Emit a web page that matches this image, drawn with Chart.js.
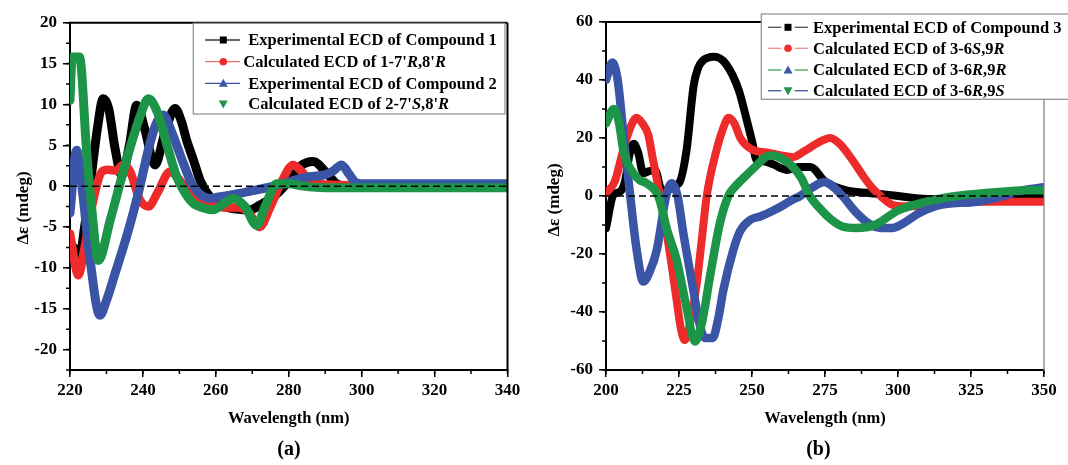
<!DOCTYPE html>
<html>
<head>
<meta charset="utf-8">
<title>ECD spectra</title>
<script src="https://cdn.jsdelivr.net/npm/chart.js@4.4.1/dist/chart.umd.min.js"></script>
<style>
  html, body { margin: 0; padding: 0; background: #fff; }
  #wrap { position: relative; width: 1068px; height: 465px; overflow: hidden; }
  canvas { position: absolute; top: 0; }
  #chartA { left: 0; }
  #chartB { left: 534px; }
</style>
</head>
<body>
<div id="wrap">
  <canvas id="chartA" width="534" height="465"></canvas>
  <canvas id="chartB" width="534" height="465"></canvas>
</div>
<script>
// --- (a) compounds 1 and 2 ---
const wlExp1 = [221, 222.3, 224, 225.5, 227.5, 229.1, 230.6, 232.4, 234.2, 236.3, 238.3, 240.5, 243.3, 246, 248.8, 250.5, 252, 254, 255.7, 258.4, 261, 263.9, 269.4, 272.1, 275.8, 279.4, 283.1, 286.7, 290.4, 293.1, 296, 340];
const cdExp1 = [-7.5, -9.5, -5, 0, 7, 10.7, 9.5, 4.5, 1.3, 5, 9.9, 7, 2.6, 6.5, 9.5, 8, 5.6, 3, 0.7, -1.3, -2.2, -2.7, -2.9, -2.3, -1.3, 0.3, 2.4, 3.0, 1.6, 0.3, 0, 0];

const wlCalc1 = [220, 222.3, 224, 226.4, 228.7, 230.5, 232.8, 234.4, 236.5, 239, 241.5, 244, 247.4, 250, 253.8, 258, 262, 266, 269, 272, 275, 278, 281.2, 283.5, 285.8, 290, 300, 340];
const cdCalc1 = [-5.8, -10.9, -7.5, -1.7, 1.75, 2.0, 1.9, 2.6, 1.8, -1.5, -2.5, -0.8, 1.75, 0.8, -1.3, -2.2, -2.6, -2.6, -3.2, -5, -2.5, 0.5, 2.6, 1.8, 0.7, 0.2, 0.1, 0.1];

const wlExp2 = [220, 221.8, 223.5, 225.5, 228.2, 230, 232.5, 235.5, 237.5, 239.2, 241.5, 243.5, 245.6, 248, 250.5, 253.8, 258.4, 261.1, 268.5, 276.7, 284.9, 289.5, 292, 294.5, 296.5, 298.2, 300, 340];
const cdExp2 = [-3.3, 4.4, -1, -9, -15.8, -14, -10.5, -6.2, -3, 0, 4.5, 7.5, 8.7, 6.5, 3.5, 0, -1.5, -1.3, -0.7, 0.1, 1.1, 1.35, 1.8, 2.6, 1.5, 0.5, 0.3, 0.3];

const wlCalc2 = [220, 220.6, 222.6, 224.6, 225.9, 227.8, 231, 235.5, 239.2, 241.5, 244, 246.5, 249.3, 251.5, 253.8, 256, 259.3, 261, 264.8, 268, 271.2, 273.5, 276.7, 280, 284, 290, 340];
const cdCalc2 = [10.5, 15.8, 15.8, 4, -2.5, -9.1, -4.2, 3.2, 8.5, 10.7, 9, 5.2, 1.1, -0.8, -2.1, -2.6, -2.9, -2.5, -1.5, -2.5, -4.8, -2.5, 0.3, 0.3, 0, -0.2, -0.2];

// --- (b) compound 3 ---
const wlExp3 = [200, 202.5, 204.8, 206.5, 208, 209.5, 211, 212.8, 214.5, 216.8, 219.1, 221, 223.6, 225, 227.6, 230, 231.5, 233, 237, 241, 245.5, 248, 250, 251.6, 254, 257, 261.9, 266, 270, 275, 282, 290, 300, 310, 320, 335, 350];
const cdExp3 = [-11.1, 0.3, 1.5, 5, 14, 18, 15, 7.8, 8.5, 9, 2, 2, 3.8, 4.4, 15.9, 38, 44, 46.5, 48, 45.6, 36.4, 27, 19, 12.4, 12, 11, 9, 10, 10, 5, 2, 1, 0, -1, -1, -0.8, -0.5];

const wlCalc3SR = [200, 203, 205.9, 208.5, 210.5, 212.5, 214.5, 216, 218.5, 220.8, 222.5, 224.2, 225.7, 227, 228.8, 231.1, 232.8, 234.5, 237.9, 240, 242, 244, 246, 250, 255, 260, 264, 268, 272, 276.8, 280, 284, 288, 291, 294, 298, 302, 306, 315, 325, 335, 350];
const cdCalc3SR = [1, 5, 15.9, 24, 27, 25, 21, 13, 0, -13, -24, -36, -46, -49.7, -43.9, -30, -15, 0, 16, 23, 27, 25, 20, 16, 15, 14, 13.4, 15.5, 18, 20, 18, 13, 7, 3, 0, -3, -3.5, -3.5, -2.5, -2, -2, -2];

const wlCalc3RR = [200, 202.2, 204, 206.2, 208.3, 210.5, 212.8, 215, 217.4, 220.6, 222.5, 224.5, 226.5, 229.9, 232, 233.9, 236.5, 238.5, 240.2, 243.6, 246, 249.3, 253, 257.3, 261, 263.5, 266.5, 270, 275, 278, 281, 285.5, 290.8, 294, 298, 302.5, 307, 315, 327, 336, 343, 350];
const cdCalc3RR = [40, 46, 40, 19, 0, -18.6, -29.5, -26, -18.6, 0, 4.4, 0, -12.9, -32.4, -44, -49, -49, -42, -32.4, -18.6, -12, -8.3, -7, -5, -3, -1.5, 0, 2.5, 4.8, 3, 0, -5.5, -10, -11, -11, -9, -6, -3, -2, 0, 2, 3];

const wlCalc3RS = [200, 202.7, 204.5, 205.9, 207.5, 209.4, 211.5, 213.9, 217.9, 221, 224.2, 227.5, 230.5, 233, 235.6, 239, 241.9, 244, 247, 251, 255, 257, 260, 264, 267, 269.8, 273, 277, 281, 285.6, 292, 300, 309.5, 320, 330, 344.5, 350];
const cdCalc3RS = [25, 30, 25, 16, 11, 7.8, 5.5, 4.4, 0, -12, -22, -38, -50.2, -43, -27.8, -9.4, 0, 3, 6.1, 10, 13.6, 14, 13, 10, 6, 0, -4, -8, -10.5, -11, -10, -5, -2, 0, 1, 2, 2];

const SERIF = '"Liberation Serif", "Times New Roman", serif';
const BLACK = '#000000', RED = '#ee2b2b', BLUE = '#3b55a6', GREEN = '#1c9548';

function series(wl, cd) {
  return wl.map((x, i) => ({ x: x, y: cd[i] }));
}

function curve(label, wl, cd, color, order, width) {
  return {
    label: label,
    data: series(wl, cd),
    borderColor: color,
    backgroundColor: color,
    borderWidth: width,
    pointRadius: 0,
    cubicInterpolationMode: 'monotone',
    borderCapStyle: 'round',
    borderJoinStyle: 'round',
    order: order
  };
}

function drawMarker(ctx, shape, x, y, color) {
  ctx.fillStyle = color;
  ctx.beginPath();
  if (shape === 'square') {
    ctx.rect(x - 3.5, y - 3.5, 7, 7);
  } else if (shape === 'circle') {
    ctx.arc(x, y, 3.8, 0, Math.PI * 2);
  } else if (shape === 'triangle') {
    ctx.moveTo(x, y - 4.5); ctx.lineTo(x + 4.5, y + 3.5); ctx.lineTo(x - 4.5, y + 3.5);
  } else {
    ctx.moveTo(x, y + 4.5); ctx.lineTo(x + 4.5, y - 3.5); ctx.lineTo(x - 4.5, y - 3.5);
  }
  ctx.closePath();
  ctx.fill();
}

function drawLegend(chart, lg) {
  const ctx = chart.ctx;
  const [bx, by, bw, bh] = lg.box;
  ctx.fillStyle = '#fff';
  ctx.fillRect(bx, by, bw, bh);
  ctx.strokeStyle = '#8c8c8c';
  ctx.lineWidth = 1.2;
  ctx.setLineDash([]);
  ctx.strokeRect(bx, by, bw, bh);
  ctx.textAlign = 'left';
  ctx.textBaseline = 'middle';
  lg.items.forEach((it, i) => {
    const cy = lg.rows[i];
    if (it.line) {
      ctx.strokeStyle = it.line;
      ctx.lineWidth = 1.3;
      it.segs.forEach(s => {
        ctx.beginPath(); ctx.moveTo(s[0], cy); ctx.lineTo(s[1], cy); ctx.stroke();
      });
    }
    drawMarker(ctx, it.shape, lg.markX, cy, it.mark);
    // italic R / S descriptors
    const parts = chart.data.datasets[it.ds].label.split(/([RS])(?=,|$)/);
    let tx = it.tx;
    ctx.fillStyle = '#000';
    parts.forEach((p, k) => {
      if (!p) return;
      ctx.font = (k % 2 ? 'italic ' : '') + 'bold 16.5px ' + SERIF;
      ctx.fillText(p, tx, cy + 1);
      tx += ctx.measureText(p).width;
    });
  });
}

function extras(cfg) {
  return {
    id: 'extras',
    afterDatasetsDraw(chart) {
      const { ctx, chartArea: a, scales } = chart;
      const y0 = scales.y.getPixelForValue(0);
      ctx.save();
      ctx.strokeStyle = '#000';
      ctx.lineWidth = 1.5;
      ctx.setLineDash([7, 4]);
      ctx.beginPath();
      ctx.moveTo(a.left, y0);
      ctx.lineTo(a.right, y0);
      ctx.stroke();
      ctx.restore();
    },
    afterDraw(chart) {
      const { ctx, chartArea: a, scales: { x, y } } = chart;
      ctx.save();
      // minor ticks
      ctx.strokeStyle = '#000';
      ctx.lineWidth = 1.5;
      ctx.beginPath();
      for (let v = x.min; v <= x.max + 1e-6; v += cfg.xMinor) {
        const px = x.getPixelForValue(v);
        ctx.moveTo(px, a.bottom); ctx.lineTo(px, a.bottom + 4);
      }
      for (let v = y.min; v <= y.max + 1e-6; v += cfg.yMinor) {
        const py = y.getPixelForValue(v);
        ctx.moveTo(a.left - 4, py); ctx.lineTo(a.left, py);
      }
      ctx.stroke();
      // frame top / right
      ctx.lineWidth = 2;
      ctx.beginPath(); ctx.moveTo(a.left - 1, a.top); ctx.lineTo(a.right, a.top); ctx.stroke();
      ctx.strokeStyle = cfg.rightColor;
      ctx.lineWidth = cfg.rightWidth;
      ctx.beginPath(); ctx.moveTo(a.right, a.top); ctx.lineTo(a.right, a.bottom + 1); ctx.stroke();
      // y title
      ctx.fillStyle = '#000';
      ctx.font = 'bold 17px ' + SERIF;
      ctx.textAlign = 'center';
      ctx.textBaseline = 'middle';
      ctx.save();
      ctx.translate(cfg.yTitle[0], cfg.yTitle[1]);
      ctx.rotate(-Math.PI / 2);
      ctx.fillText('\u0394\u03b5 (mdeg)', 0, 0);
      ctx.restore();
      // panel label
      ctx.font = 'bold 20px ' + SERIF;
      ctx.fillText(cfg.panel[0], cfg.panel[1], cfg.panel[2]);
      drawLegend(chart, cfg.legend);
      ctx.restore();
    }
  };
}

function axisX(min, max, step) {
  return {
    type: 'linear', min: min, max: max,
    ticks: { stepSize: step, color: '#000', padding: 3, font: { family: SERIF, weight: 'bold', size: 17 } },
    grid: { drawOnChartArea: false, drawTicks: true, tickLength: 7, color: '#000', lineWidth: 1.5 },
    border: { display: true, color: '#000', width: 2 },
    title: { display: true, text: 'Wavelength (nm)', color: '#000', font: { family: SERIF, weight: 'bold', size: 16.5 }, padding: { top: 0, bottom: 36 } },
    afterFit: s => { s.height = 95; }
  };
}

function axisY(min, max, step, width) {
  return {
    min: min, max: max,
    ticks: { stepSize: step, includeBounds: false, color: '#000', padding: 6, font: { family: SERIF, weight: 'bold', size: 17 } },
    grid: { drawOnChartArea: false, drawTicks: true, tickLength: 7, color: '#000', lineWidth: 1.5 },
    border: { display: true, color: '#000', width: 2 },
    afterFit: s => { s.width = width; }
  };
}

// chart (a)
new Chart(document.getElementById('chartA'), {
  type: 'line',
  data: {
    datasets: [
      curve('Experimental ECD of Compound 1', wlExp1, cdExp1, BLACK, 3, 9),
      curve("Calculated ECD of 1-7'R,8'R", wlCalc1, cdCalc1, RED, 2, 8.5),
      curve('Experimental ECD of Compound 2', wlExp2, cdExp2, BLUE, 1, 9),
      curve("Calculated ECD of 2-7'S,8'R", wlCalc2, cdCalc2, GREEN, 0, 9)
    ]
  },
  options: {
    responsive: false,
    animation: false,
    layout: { padding: { top: 22.7, right: 26.5, left: 0, bottom: 0 } },
    plugins: { legend: { display: false }, tooltip: { enabled: false } },
    scales: { x: axisX(220, 340, 20), y: axisY(-22.5, 20, 5, 70) }
  },
  plugins: [extras({
    xMinor: 10, yMinor: 2.5, rightColor: '#000', rightWidth: 2,
    yTitle: [23.3, 208], panel: ['(a)', 289, 450],
    legend: {
      box: [193.3, 23.3, 311.7, 90.7], rows: [40, 61.7, 83.3, 104], markX: 223.3,
      items: [
        { ds: 0, line: '#3a3a3a', segs: [[205, 240]], shape: 'square', mark: BLACK, tx: 248.3 },
        { ds: 1, line: '#f26d6d', segs: [[205, 240]], shape: 'circle', mark: RED, tx: 243.3 },
        { ds: 2, line: BLUE, segs: [[205, 240]], shape: 'triangle', mark: BLUE, tx: 248.3 },
        { ds: 3, line: null, segs: [], shape: 'triangleDown', mark: GREEN, tx: 248.3 }
      ]
    }
  })]
});

// chart (b)
new Chart(document.getElementById('chartB'), {
  type: 'line',
  data: {
    datasets: [
      curve('Experimental ECD of Compound 3', wlExp3, cdExp3, BLACK, 3, 8),
      curve('Calculated ECD of 3-6S,9R', wlCalc3SR, cdCalc3SR, RED, 2, 8),
      curve('Calculated ECD of 3-6R,9R', wlCalc3RR, cdCalc3RR, BLUE, 1, 8.5),
      curve('Calculated ECD of 3-6R,9S', wlCalc3RS, cdCalc3RS, GREEN, 0, 8.5)
    ]
  },
  options: {
    responsive: false,
    animation: false,
    layout: { padding: { top: 22, right: 24, left: 0, bottom: 0 } },
    plugins: { legend: { display: false }, tooltip: { enabled: false } },
    scales: { x: axisX(200, 350, 25), y: axisY(-60, 60, 20, 72) }
  },
  plugins: [extras({
    xMinor: 12.5, yMinor: 10, rightColor: '#7a7a7a', rightWidth: 1.2,
    yTitle: [20.5, 200], panel: ['(b)', 284.4, 450],
    legend: {
      box: [227.3, 14, 320, 85.3], rows: [27.3, 48.3, 70, 90.7], markX: 254,
      items: [
        { ds: 0, line: '#555555', segs: [[234, 247.3], [260.7, 274]], shape: 'square', mark: BLACK, tx: 279 },
        { ds: 1, line: '#f28c8c', segs: [[234, 247.3], [260.7, 274]], shape: 'circle', mark: RED, tx: 279 },
        { ds: 2, line: '#3aa85a', segs: [[234, 247.3], [260.7, 274]], shape: 'triangle', mark: BLUE, tx: 279 },
        { ds: 3, line: BLUE, segs: [[234, 247.3], [260.7, 274]], shape: 'triangleDown', mark: GREEN, tx: 279 }
      ]
    }
  })]
});
</script>
</body>
</html>
